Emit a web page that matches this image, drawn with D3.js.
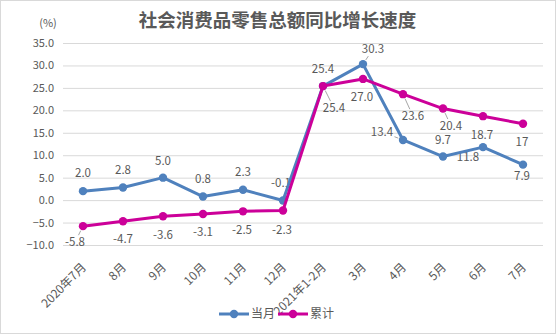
<!DOCTYPE html>
<html>
<head>
<meta charset="utf-8">
<script src="https://cdn.jsdelivr.net/npm/d3@7"></script>
<style>
  html, body { margin: 0; padding: 0; background: #fff; }
  svg { display: block; font-family: "Microsoft YaHei", "Noto Sans CJK SC", sans-serif; }
</style>
</head>
<body>
<svg id="chart" width="556" height="334"></svg>
<script>
// Categories and series
const categories = ["2020年7月", "8月", "9月", "10月", "11月", "12月", "2021年1-2月", "3月", "4月", "5月", "6月", "7月"];
const monthly    = [2.0, 2.8, 5.0, 0.8, 2.3, -0.1, 25.4, 30.3, 13.4, 9.7, 11.8, 7.9];
const cumulative = [-5.8, -4.7, -3.6, -3.1, -2.5, -2.3, 25.4, 27.0, 23.6, 20.4, 18.7, 17];
const monthlyText    = ["2.0", "2.8", "5.0", "0.8", "2.3", "-0.1", "25.4", "30.3", "13.4", "9.7", "11.8", "7.9"];
const cumulativeText = ["-5.8", "-4.7", "-3.6", "-3.1", "-2.5", "-2.3", "25.4", "27.0", "23.6", "20.4", "18.7", "17"];
const yTicks = [-10, -5, 0, 5, 10, 15, 20, 25, 30, 35];
const seriesNames = ["当月", "累计"];

// Label placement (offset of label centre from its point, and whether a leader line is drawn)
const monthlyLabelPos = [
  [0, -18, 0], [0, -17.5, 0], [0, -17, 0], [0, -17.5, 0], [0, -18, 0], [-2, -18, 0],
  [0, -17, 0], [10, -15, 1], [-21, -8, 1], [0, -16.5, 0], [-15, 10, 0], [-1, 11, 0]
];
const cumulativeLabelPos = [
  [-8, 16, 1], [0, 18, 0], [0, 19, 0], [0, 18, 0], [-1, 19, 0], [-1, 19.5, 0],
  [11, 22, 1], [-1, 18, 0], [10, 22, 1], [8, 17.5, 1], [-1, 19, 0], [-1, 18, 0]
];

const colors = ["#4f81bd", "#cc0099"];
const textColor = "#595959";

const svg = d3.select("#chart");
const W = 556, H = 334;

// outer frame
svg.append("rect").attr("x", 0.5).attr("y", 0.5).attr("width", W - 1).attr("height", H - 1)
  .attr("fill", "#fff").attr("stroke", "#d9d9d9");

// title
svg.append("text").attr("x", 277.5).attr("y", 21).attr("dy", "0.35em")
  .attr("text-anchor", "middle").attr("fill", textColor)
  .attr("font-size", 18.5).attr("font-weight", "bold")
  .text("社会消费品零售总额同比增长速度");

// unit label
svg.append("text").attr("x", 48).attr("y", 23).attr("dy", "0.35em")
  .attr("text-anchor", "middle").attr("fill", textColor).attr("font-size", 11)
  .text("(%)");

const x = d3.scaleBand().domain(categories).range([63, 543]);
const y = d3.scaleLinear().domain([-10, 35]).range([245, 43]);
const cx = d => x(d) + x.bandwidth() / 2;

// gridlines + y tick labels
const yAxis = d3.axisLeft(y).tickValues(yTicks).tickFormat(d3.format(".1f"))
  .tickSize(-480).tickPadding(9);
const gy = svg.append("g").attr("transform", "translate(63,0)").call(yAxis);
gy.select(".domain").remove();
gy.selectAll(".tick line").attr("stroke", "#d9d9d9").attr("stroke-width", 1);
gy.selectAll(".tick text").attr("fill", textColor).attr("font-size", 11)
  .attr("font-family", "\"Microsoft YaHei\", \"Noto Sans CJK SC\", sans-serif");

// rotated category labels
const xAxis = d3.axisBottom(x).tickSize(0).tickPadding(0);
const gx = svg.append("g").attr("transform", "translate(0,245)").call(xAxis);
gx.select(".domain").remove();
gx.selectAll(".tick text")
  .attr("fill", textColor).attr("font-size", 12)
  .attr("font-family", "\"Microsoft YaHei\", \"Noto Sans CJK SC\", sans-serif")
  .attr("text-anchor", "end")
  .attr("y", 0).attr("dy", 0)
  .attr("transform", "translate(4,23) rotate(-45)");

// data labels (drawn beneath the lines)
const labelLayer = svg.append("g");
const leaderLayer = svg.append("g");

function drawLabels(values, texts, pos) {
  values.forEach((v, i) => {
    const px = cx(categories[i]), py = y(v);
    const lx = px + pos[i][0], ly = py + pos[i][1];
    const t = labelLayer.append("text").attr("x", lx).attr("y", ly).attr("dy", "0.35em")
      .attr("text-anchor", "middle").attr("fill", textColor).attr("font-size", 11.5)
      .text(texts[i]);
    if (pos[i][2]) {
      const bb = t.node().getBBox();
      const dx = px - lx, dy = py - ly;
      const len = Math.hypot(dx, dy);
      const hw = bb.width / 2 + 1, hh = bb.height / 2 - 1;
      const s = Math.min(hw / Math.abs(dx || 1e-6), hh / Math.abs(dy || 1e-6));
      const ex = lx + dx * s, ey = ly + dy * s;
      const sx = px - dx / len * 5, sy = py - dy / len * 5;
      leaderLayer.append("line").attr("x1", sx).attr("y1", sy).attr("x2", ex).attr("y2", ey)
        .attr("stroke", "#a6a6a6").attr("stroke-width", 1);
    }
  });
}
drawLabels(monthly, monthlyText, monthlyLabelPos);
drawLabels(cumulative, cumulativeText, cumulativeLabelPos);

// series lines and markers
const line = d3.line().x((d, i) => cx(categories[i])).y(d => y(d));
[monthly, cumulative].forEach((vals, k) => {
  const g = svg.append("g");
  g.append("path").datum(vals).attr("d", line).attr("fill", "none")
    .attr("stroke", colors[k]).attr("stroke-width", 3).attr("stroke-linejoin", "round");
  g.selectAll("circle").data(vals).join("circle")
    .attr("cx", (d, i) => cx(categories[i])).attr("cy", d => y(d)).attr("r", 4.2)
    .attr("fill", colors[k]);
});

// legend
const legendItems = [{ x1: 219, x2: 249, tx: 251 }, { x1: 278, x2: 308, tx: 310 }];
const lg = svg.append("g");
legendItems.forEach((it, k) => {
  lg.append("line").attr("x1", it.x1).attr("x2", it.x2).attr("y1", 314).attr("y2", 314)
    .attr("stroke", colors[k]).attr("stroke-width", 3);
  lg.append("circle").attr("cx", (it.x1 + it.x2) / 2).attr("cy", 314).attr("r", 4.2).attr("fill", colors[k]);
  lg.append("text").attr("x", it.tx).attr("y", 314).attr("dy", "0.35em")
    .attr("fill", textColor).attr("font-size", 12).text(seriesNames[k]);
});
</script>
</body>
</html>
